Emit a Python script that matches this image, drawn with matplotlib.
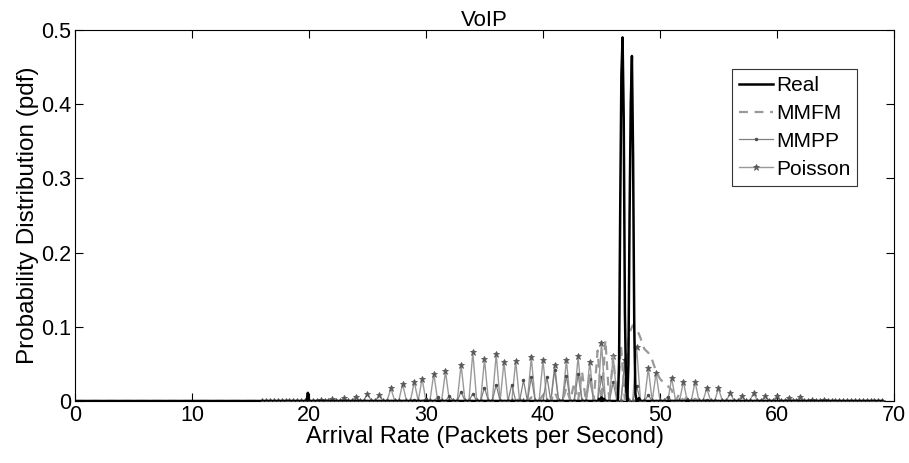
import numpy as np
import matplotlib
matplotlib.use("Agg")
import matplotlib.pyplot as plt

plt.rcParams['font.family'] = ['Liberation Sans', 'DejaVu Sans']

# Real trace: zero except for a few points (0.1 grid)
real_peak_x = [19.9, 44.8, 45.0, 45.2, 46.5, 46.6, 46.7, 46.8, 46.9, 47.0, 47.1,
               47.3, 47.4, 47.5, 47.6, 47.7, 47.8, 47.9, 48.2]
real_peak_y = [0.011, 0.003, 0.005, 0.003, 0.05, 0.26, 0.44, 0.49, 0.38, 0.12, 0.02,
               0.05, 0.25, 0.40, 0.465, 0.33, 0.10, 0.01, 0.004]

# MMFM (dashed) non-zero part
mmfm_x = [38.0, 39.0, 40.0, 41.0, 42.0, 42.67, 43.33, 44.0, 44.67, 45.33, 46.0, 46.67,
          47.33, 47.67, 48.0, 48.33, 48.67, 49.0, 49.33, 49.67, 50.0, 50.33, 50.67,
          51.0, 51.67, 52.33, 53.0]
mmfm_y = [0.003, 0.005, 0.008, 0.012, 0.018, 0.025, 0.040, 0.035, 0.068, 0.082, 0.060, 0.075,
          0.090, 0.102, 0.098, 0.085, 0.070, 0.065, 0.055, 0.040, 0.030, 0.024, 0.020,
          0.015, 0.010, 0.006, 0.003]

# MMPP peaks (1/3 grid)
mmpp_x = [29.0, 30.0, 31.0, 32.0, 33.0, 34.0, 35.0, 36.0, 37.33, 38.33, 39.0, 40.33,
          41.0, 42.0, 43.0, 44.0, 45.0, 46.0, 47.0, 48.0, 49.0, 50.67, 52.33, 54.0]
mmpp_y = [0.002, 0.003, 0.005, 0.007, 0.0125, 0.010, 0.018, 0.022, 0.022, 0.028, 0.032, 0.033,
          0.042, 0.034, 0.036, 0.030, 0.032, 0.025, 0.055, 0.020, 0.008, 0.006, 0.003, 0.002]

# Poisson peaks (1/3 grid)
pois_x = [21.0, 22.0, 23.0, 24.0, 25.0, 26.0, 27.0, 28.0, 29.0, 29.67, 30.67, 31.67,
          33.0, 34.0, 35.0, 36.0, 36.67, 37.67, 39.0, 40.0, 41.0, 42.0, 43.0, 44.0,
          45.0, 46.0, 47.0, 48.0, 49.0, 49.67, 51.0, 52.0, 53.0, 54.0, 55.0, 56.0,
          57.0, 58.0, 59.0, 60.0, 61.0, 62.0, 63.0, 64.0]
pois_y = [0.002, 0.003, 0.004, 0.006, 0.010, 0.008, 0.017, 0.023, 0.026, 0.030, 0.037, 0.040,
          0.049, 0.066, 0.056, 0.063, 0.053, 0.054, 0.059, 0.055, 0.048, 0.055, 0.060, 0.053,
          0.078, 0.061, 0.055, 0.073, 0.044, 0.038, 0.031, 0.026, 0.026, 0.017, 0.017, 0.011,
          0.007, 0.011, 0.007, 0.007, 0.004, 0.006, 0.002, 0.002]


def on_grid(grid, px, py):
    y = np.zeros_like(grid)
    for xv, yv in zip(px, py):
        y[np.argmin(np.abs(grid - xv))] = yv
    return y


real_grid = np.round(np.arange(0, 69.01, 0.1), 2)
full_grid = np.arange(0, 69.01, 1 / 3)
model_grid = np.arange(16, 69.01, 1 / 3)

real = on_grid(real_grid, real_peak_x, real_peak_y)
mmfm = on_grid(full_grid, mmfm_x, mmfm_y)
mmpp = on_grid(model_grid, mmpp_x, mmpp_y)
pois = on_grid(model_grid, pois_x, pois_y)

fig = plt.figure(figsize=(9.09, 4.63), dpi=100)
ax = fig.add_axes([75 / 909, 62 / 463, 819 / 909, 371 / 463])

ax.plot(model_grid, pois, color='0.6', lw=1.0, marker='*', ms=5,
        mec='0.35', mfc='0.35', mew=0.6, label='Poisson', zorder=2)
ax.plot(model_grid, mmpp, color='0.5', lw=0.9, marker='.', ms=3,
        mec='0.3', mfc='0.3', label='MMPP', zorder=3)
ax.plot(full_grid, mmfm, color='0.6', lw=1.6, ls=(0, (4, 3)), label='MMFM', zorder=4)
ax.plot(real_grid, real, color='black', lw=1.8, label='Real', zorder=5)

ax.set_xlim(0, 70)
ax.set_ylim(0, 0.5)
ax.set_xticks(range(0, 71, 10))
ax.set_yticks([0, 0.1, 0.2, 0.3, 0.4, 0.5])
ax.set_yticklabels(['0', '0.1', '0.2', '0.3', '0.4', '0.5'])
ax.tick_params(direction='in', length=6, width=0.8, top=True, right=True,
               labelsize=15.5, pad=3)
for s in ax.spines.values():
    s.set_linewidth(0.8)

ax.set_title('VoIP', fontsize=16, pad=3)
ax.set_xlabel('Arrival Rate (Packets per Second)', fontsize=17, labelpad=0)
ax.set_ylabel('Probability Distribution (pdf)', fontsize=17.5, labelpad=1)

handles, labels = ax.get_legend_handles_labels()
order = [3, 2, 1, 0]
leg = ax.legend([handles[i] for i in order], [labels[i] for i in order],
                loc='upper left', bbox_to_anchor=(657 / 819, 332 / 371), fontsize=15,
                frameon=True, fancybox=False, edgecolor='black', handlelength=1.6,
                handletextpad=0.15, borderpad=0.35, labelspacing=0.42, borderaxespad=0)
leg.get_frame().set_linewidth(0.8)

fig.savefig('out.png', dpi=100)
